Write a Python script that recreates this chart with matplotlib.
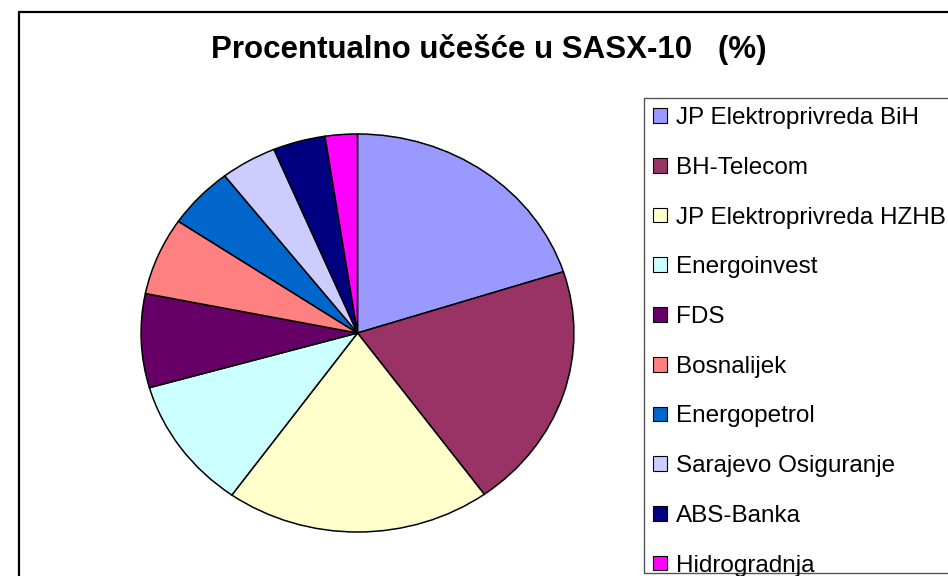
import matplotlib
matplotlib.use("Agg")
import matplotlib.pyplot as plt
from matplotlib.patches import Rectangle

plt.rcParams['font.family'] = ['Liberation Sans', 'DejaVu Sans']

# udio kompanija u indeksu SASX-10 (%)
kompanije = ["JP Elektroprivreda BiH", "BH-Telecom", "JP Elektroprivreda HZHB",
             "Energoinvest", "FDS", "Bosnalijek", "Energopetrol",
             "Sarajevo Osiguranje", "ABS-Banka", "Hidrogradnja"]
udio = [20.0, 20.0, 19.8, 10.7, 7.6, 6.3, 5.0, 4.2, 3.9, 2.4]
boje = ["#9999FF", "#993366", "#FFFFCC", "#CCFFFF", "#660066",
        "#FF8080", "#0066CC", "#CCCCFF", "#000080", "#FF00FF"]

W, H = 948, 576
fig = plt.figure(figsize=(W / 100, H / 100), dpi=100)

# okvir grafikona
fig.patches.append(Rectangle((19 / W, -0.05), 1.0, 1 - 12 / H + 0.05,
                             transform=fig.transFigure, fill=False,
                             edgecolor="black", linewidth=1.6, clip_on=False))

# pita (malo razvucena po sirini kao u originalu)
ax = fig.add_axes([140 / W, 43 / H, 435 / W, 400 / H])
wedges, _ = ax.pie(udio, colors=boje, startangle=90, counterclock=False,
                   radius=1.0,
                   wedgeprops=dict(edgecolor="black", linewidth=1.1))
ax.set_aspect("auto")
ax.set_xlim(-1.005, 1.005)
ax.set_ylim(-1.005, 1.005)
ax.axis("off")

fig.text(489 / W, 1 - 58 / H, "Procentualno učešće u SASX-10   (%)",
         ha="center", va="baseline", fontsize=22.5, fontweight="bold")

# okvir legende (donja ivica sijece zadnju stavku kao u originalu)
fig.patches.append(Rectangle((644 / W, 1 - 573 / H), 1.0, (573 - 98) / H,
                             transform=fig.transFigure, fill=False,
                             edgecolor="#555555", linewidth=1.0, clip_on=False))

leg = fig.legend(wedges, kompanije, loc="upper left",
                 bbox_to_anchor=(644 / W, 1 - 98 / H), borderaxespad=0,
                 fontsize=17.5, frameon=False,
                 handlelength=0.58, handleheight=0.55, handletextpad=0.35,
                 borderpad=0.38, labelspacing=1.14)
for h in leg.legend_handles:
    h.set_linewidth(0.8)

fig.savefig("out.png", dpi=100)
